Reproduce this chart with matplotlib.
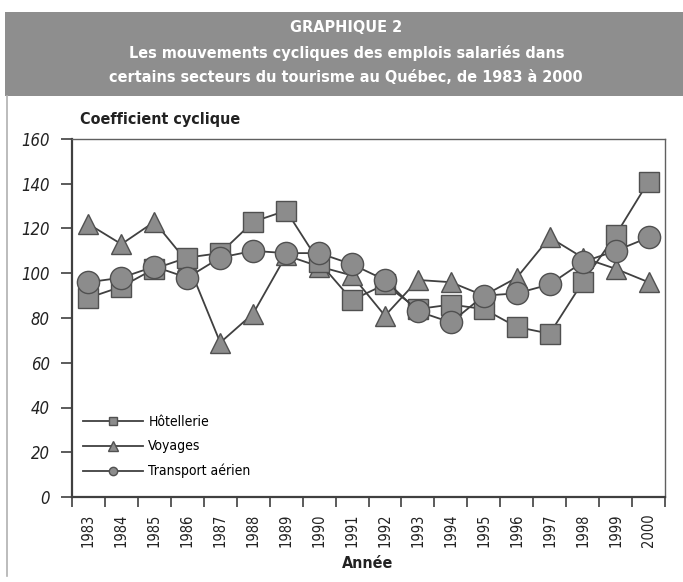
import matplotlib.pyplot as plt
from matplotlib.lines import Line2D
from matplotlib.patches import Rectangle

plt.rcParams['font.family'] = ['DejaVu Sans']
plt.rcParams['font.stretch'] = 'condensed'

years = [str(y) for y in range(1983, 2001)]
hotellerie = [89, 94, 102, 107, 109, 123, 128, 105, 88, 95, 84, 86, 84, 76, 73, 96, 117, 141]
voyages = [122, 113, 123, 105, 69, 82, 108, 103, 99, 81, 97, 96, 90, 98, 116, 107, 102, 96]
transport = [96, 98, 103, 98, 107, 110, 109, 109, 104, 97, 83, 78, 90, 91, 95, 105, 110, 116]

fill = '#8c8c8c'
edge = '#505050'
linec = '#404040'

fig = plt.figure(figsize=(6.83, 5.82), dpi=100)

# title banner
fig.patches.append(Rectangle((5 / 683, 1 - 96 / 582), 678 / 683, 84 / 582,
                             transform=fig.transFigure, facecolor='#8e8e8e',
                             edgecolor='none', zorder=0))
fig.add_artist(Line2D([7 / 683, 7 / 683], [0.01, 1 - 96 / 582], color='#b0b0b0', lw=1.2))
title_lines = ['GRAPHIQUE 2',
               'Les mouvements cycliques des emplois salariés dans',
               'certains secteurs du tourisme au Québec, de 1983 à 2000']
for i, t in enumerate(title_lines):
    fig.text(0.507, 1 - (28 + 25 * i) / 582, t, color='white', fontsize=11.6,
             fontweight='bold', ha='center', va='center')

ax = fig.add_axes([72 / 683, 1 - 497 / 582, 593 / 683, 358 / 582])
x = list(range(len(years)))

# triangles underneath, then squares, circles on top (as in the original)
ax.plot(x, voyages, color=linec, lw=1.3, marker='^', ms=15, mfc=fill, mec=edge, mew=1, zorder=3)
ax.plot(x, hotellerie, color=linec, lw=1.3, marker='s', ms=14, mfc=fill, mec=edge, mew=1, zorder=3)
ax.plot(x, transport, color=linec, lw=1.3, marker='o', ms=16, mfc=fill, mec=edge, mew=1, zorder=3)

ax.set_xlim(-0.5, len(years) - 0.5)
ax.set_ylim(0, 160)
ax.set_yticks(range(0, 161, 20))
ax.set_yticklabels([str(v) for v in range(0, 161, 20)], fontsize=12, style='italic', color='#222222')
ax.set_xticks(x)
ax.set_xticklabels(years, rotation=90, fontsize=10.5, color='#222222')
ax.set_xticks([i - 0.5 for i in range(len(years) + 1)], minor=True)
ax.tick_params(axis='x', which='major', length=0, pad=12)
ax.tick_params(axis='x', which='minor', length=7, width=1.2, color='#404040')
ax.tick_params(axis='y', length=8, width=1.2, color='#404040', pad=8)

for s in ['left', 'bottom']:
    ax.spines[s].set_linewidth(1.6)
    ax.spines[s].set_color('#404040')
for s in ['top', 'right']:
    ax.spines[s].set_linewidth(1.0)
    ax.spines[s].set_color('#606060')

fig.text(80 / 683, 1 - 120 / 582, 'Coefficient cyclique', fontsize=11.5, fontweight='bold',
         ha='left', va='center', color='#222222')
fig.text(368 / 683, 1 - 563 / 582, 'Année', fontsize=11.5, fontweight='bold',
         ha='center', va='center', color='#222222')

handles = [
    Line2D([], [], color=linec, lw=1.3, marker='s', ms=6, mfc=fill, mec=edge),
    Line2D([], [], color=linec, lw=1.3, marker='^', ms=7, mfc=fill, mec=edge),
    Line2D([], [], color=linec, lw=1.3, marker='o', ms=6, mfc=fill, mec=edge),
]
ax.legend(handles, ['Hôtellerie', 'Voyages', 'Transport aérien'], loc='lower left',
          bbox_to_anchor=(11 / 593, 0.052), frameon=False, handlelength=4.3, fontsize=10,
          labelspacing=0.75, handletextpad=0.4, borderpad=0, borderaxespad=0)

fig.savefig('out.png', dpi=100)
